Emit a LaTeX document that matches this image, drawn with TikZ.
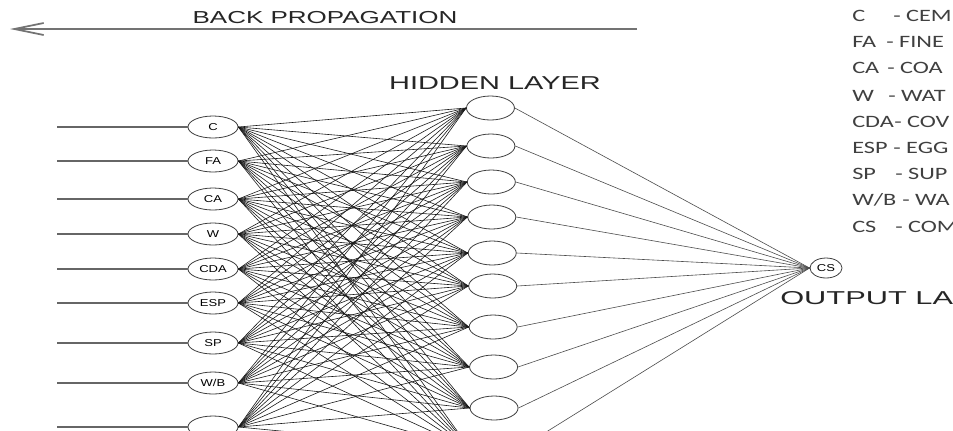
\documentclass[tikz,border=0pt]{standalone}
\usepackage{fontspec}
\setmainfont{Liberation Sans}
\newfontfamily\legendfont{Carlito}
\usetikzlibrary{shapes.geometric,arrows.meta}
\tikzset{
  inbox/.style={ellipse,draw=black!75,line width=0.6pt,inner sep=0pt,minimum width=37.5pt,minimum height=16.5pt,font=\fontsize{7.5}{8}\selectfont},
  hidbox/.style={ellipse,draw=black!75,line width=0.6pt,inner sep=0pt,minimum width=36pt,minimum height=18pt},
  outbox/.style={ellipse,draw=black!75,line width=0.6pt,inner sep=0pt,minimum width=24pt,minimum height=15pt,font=\fontsize{7.5}{8}\selectfont},
  wire/.style={black!90,line width=0.45pt},
  inwire/.style={black!60,line width=0.8pt},
  title/.style={font=\fontsize{13}{14}\selectfont,text=black!85,inner sep=0pt},
  legend/.style={font=\legendfont\fontsize{13}{14}\selectfont,text=black!75,inner sep=0pt,anchor=west}
}
\newcommand{\widetxt}[1]{\scalebox{1.3}[1]{#1}}
\newcommand{\legtxt}[1]{\scalebox{1.4}[1]{#1}}
\begin{document}
\begin{tikzpicture}[x=0.75pt,y=-0.75pt]
\clip (0,0) rectangle (953,430);
\fill[white] (0,0) rectangle (953,430);
% back propagation
\node[title] (bp) at (325,18) {\scalebox{1.5}[1]{BACK PROPAGATION}};
\coordinate (bpr) at (637,29);
\coordinate (bpl) at (10,29);
\draw[black!55,line width=1.3pt,-{Straight Barb[length=22pt,width=9pt]}] (bpr) -- (bpl);
% hidden layer label
\node[title,font=\fontsize{14}{15}\selectfont] (hl) at (495,83) {\scalebox{1.55}[1]{HIDDEN LAYER}};
% input nodes
\foreach \n/\y/\t in {1/127/C,2/161/FA,3/199/CA,4/234/W,5/269/CDA,6/303/ESP,7/343/SP,8/383/{W/B},9/427/{}}{
  \node[inbox] (i\n) at (213,\y) {\widetxt{\t}};
  \coordinate (s\n) at (57,\y);
  \draw[inwire] (s\n) -- (i\n.west);
}
% hidden nodes
\foreach \n/\y in {1/108,2/146,3/182,4/217,5/253,6/286,7/327,8/367,9/408,10/449}{
  \pgfmathsetmacro{\hx}{490+0.45*\n}
  \node[hidbox] (h\n) at (\hx,\y) {};
}
% output
\node[outbox] (cs) at (826,268) {\widetxt{CS}};
% connections
\foreach \a in {1,...,9}{
  \foreach \b in {1,...,10}{
    \draw[wire] (i\a.east) -- (h\b.west);
  }
}
\foreach \b in {1,...,10}{
  \draw[wire,black!70] (h\b.east) -- (cs.west);
}
\node[title,font=\fontsize{14}{15}\selectfont,anchor=west] (ol) at (780,298) {\scalebox{1.65}[1]{OUTPUT LA}};
% legend
\foreach \n/\y/\ab/\dx/\rest in {1/16/C/893/CEM,2/42/FA/886/FINE,3/68/CA/887/COA,4/96/W/888/WAT,5/122/CDA/894/COV,6/148/ESP/893/EGG,7/174/SP/895/SUP,8/200/{W/B}/902/WA,9/227/CS/895/COM}{
  \node[legend] (la\n) at (852,\y) {\legtxt{\ab}};
  \node[legend] (lb\n) at (\dx,\y) {\legtxt{- \rest}};
}
\end{tikzpicture}
\end{document}
